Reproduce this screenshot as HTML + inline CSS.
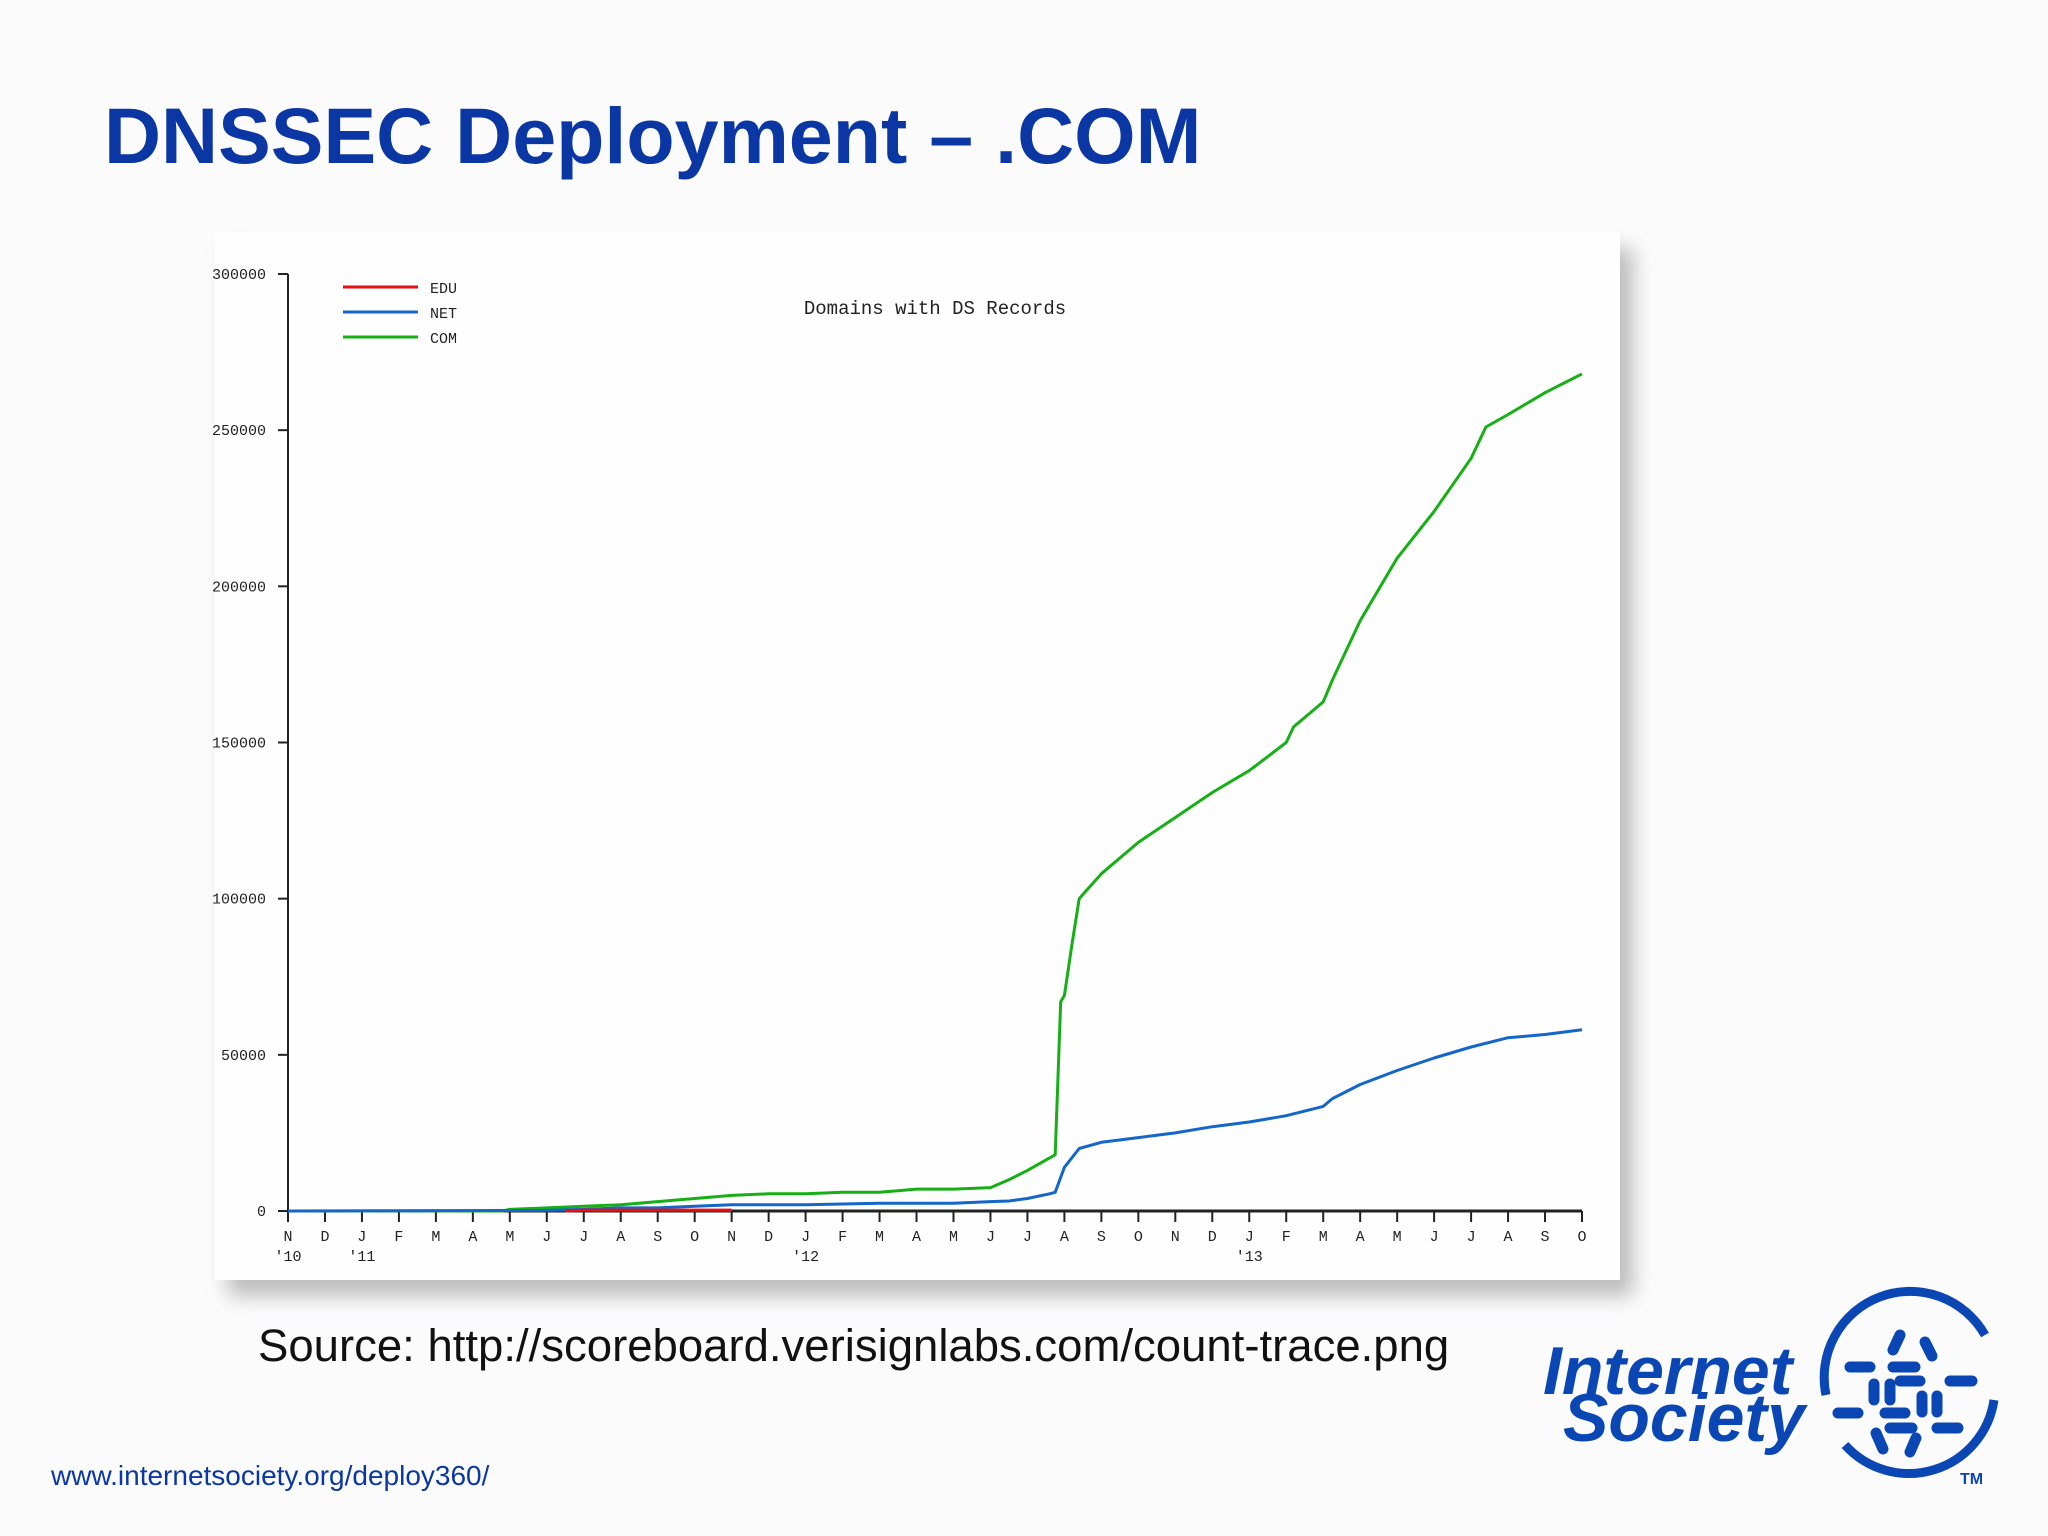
<!DOCTYPE html>
<html><head><meta charset="utf-8"><style>
html,body{margin:0;padding:0;background:#fbfbfc;}
svg{display:block;}
</style></head><body>
<svg id="page" width="2048" height="1536" viewBox="0 0 2048 1536" xmlns="http://www.w3.org/2000/svg">
<defs>
<filter id="sh" x="-5%" y="-5%" width="115%" height="120%"><feGaussianBlur stdDeviation="10"/></filter>
</defs>
<rect width="2048" height="1536" fill="#fbfbfc"/>
<text x="104" y="163" font-family="Liberation Sans, sans-serif" font-weight="bold" font-size="79" fill="#0a37a4">DNSSEC Deployment – .COM</text>
<rect x="228" y="248" width="1405" height="1048" fill="#888" opacity="0.55" filter="url(#sh)"/>
<rect x="215" y="232" width="1405" height="1048" fill="#fefefe"/>
<g id="chart"></g>
<text x="258" y="1361" font-family="Liberation Sans, sans-serif" font-size="45.5" fill="#111">Source: http://scoreboard.verisignlabs.com/count-trace.png</text>
<text x="51" y="1485" font-family="Liberation Sans, sans-serif" font-size="28" fill="#0a37a4">www.internetsociety.org/deploy360/</text>
<g fill="#0a47b4">
<text x="1543" y="1394" font-family="Liberation Sans, sans-serif" font-weight="bold" font-style="italic" font-size="68">Internet</text>
<text x="1563" y="1441" font-family="Liberation Sans, sans-serif" font-weight="bold" font-style="italic" font-size="68">Society</text>
<path d="M1826,1395 A86,86 0 0 1 1985,1335" stroke="#0a47b4" stroke-width="9" fill="none"/>
<path d="M1994,1400 A86,86 0 0 1 1845,1445" stroke="#0a47b4" stroke-width="9" fill="none"/>
<g stroke="#0a47b4" stroke-width="11" stroke-linecap="round" fill="none">
<line x1="1850" y1="1367" x2="1870" y2="1367"/><line x1="1893" y1="1367" x2="1915" y2="1367"/>
<line x1="1900" y1="1381" x2="1920" y2="1381"/><line x1="1950" y1="1381" x2="1972" y2="1381"/>
<line x1="1838" y1="1413" x2="1858" y2="1413"/><line x1="1885" y1="1413" x2="1905" y2="1413"/>
<line x1="1890" y1="1428" x2="1912" y2="1428"/><line x1="1937" y1="1428" x2="1958" y2="1428"/>
<line x1="1874" y1="1384" x2="1874" y2="1400"/><line x1="1890" y1="1384" x2="1890" y2="1400"/>
<line x1="1922" y1="1396" x2="1922" y2="1412"/><line x1="1937" y1="1396" x2="1937" y2="1412"/>
<line x1="1893" y1="1350" x2="1900" y2="1335"/><line x1="1925" y1="1342" x2="1932" y2="1356"/>
<line x1="1876" y1="1433" x2="1883" y2="1449"/><line x1="1910" y1="1452" x2="1916" y2="1438"/>
</g>
<text x="1960" y="1484" font-family="Liberation Sans, sans-serif" font-size="16" font-weight="bold">TM</text>
</g>
</svg>
<script>
const yTicks=[0,50000,100000,150000,200000,250000,300000];
const monthLabels=["N","D","J","F","M","A","M","J","J","A","S","O","N","D","J","F","M","A","M","J","J","A","S","O","N","D","J","F","M","A","M","J","J","A","S","O"];
const yearLabels=[[0,"'10"],[2,"'11"],[14,"'12"],[26,"'13"]];
const seriesNames=["EDU","NET","COM"];
const comT=[0,5.8,6,7,8,9,10,11,12,13,14,15,16,17,18,19,19.5,20,20.6,20.75,20.9,21,21.2,21.4,21.55,22,23,24,25,26,27,27.2,28,28.25,29,30,31,32,32.4,33,34,35];
const comV=[0,0,500,1000,1500,2000,3000,4000,5000,5500,5500,6000,6000,7000,7000,7500,10000,13000,17000,18000,67000,69000,85000,100000,102000,108000,118000,126000,134000,141000,150000,155000,163000,170000,189000,209000,224000,241000,251000,255000,262000,268000];
const netT=[0,7,8,9,10,11,12,14,16,17,18,19,19.5,20,20.6,20.75,21,21.4,22,23,24,25,26,27,28,28.25,29,30,31,32,33,34,35];
const netV=[0,200,500,1000,1000,1500,2000,2000,2500,2500,2500,3000,3200,4000,5500,6000,14000,20000,22000,23500,25000,27000,28500,30500,33500,36000,40500,45000,49000,52500,55500,56500,58000];
const eduT=[7.5,8,9,10,11,12];
const eduV=[0,300,300,300,300,300];
const x0=288,x1=1582,y0=1211,y1=274;
const xs=m=>x0+(x1-x0)*m/35;
const ys=v=>y0-(y0-y1)*v/300000;
const NS="http://www.w3.org/2000/svg";
const g=document.getElementById('chart');
function mk(tag,attrs,txt){const e=document.createElementNS(NS,tag);for(const k in attrs)e.setAttribute(k,attrs[k]);if(txt!==undefined)e.textContent=txt;g.appendChild(e);return e;}
const mono="Liberation Mono, DejaVu Sans Mono, monospace";
let e=mk('line',{x1:x0,y1:y0,x2:x0,y2:y1,stroke:'#222','stroke-width':2});


e=mk('line',{x1:x0,y1:y0,x2:x1,y2:y0,stroke:'#222','stroke-width':3});


yTicks.forEach(v=>{
  mk('line',{x1:x0-10,y1:ys(v),x2:x0,y2:ys(v),stroke:'#222','stroke-width':2});
  const t=mk('text',{x:x0-22,y:ys(v)+5,'text-anchor':'end','font-family':mono,'font-size':15,fill:'#222'},String(v));
  
  
});
monthLabels.forEach((m,i)=>{
  mk('line',{x1:xs(i),y1:y0,x2:xs(i),y2:y0+11,stroke:'#222','stroke-width':2});
  const t=mk('text',{x:xs(i),y:1241,'text-anchor':'middle','font-family':mono,'font-size':15,fill:'#222'},m);
  
  
});
yearLabels.forEach(([i,l])=>{
  const t=mk('text',{x:xs(i),y:1261,'text-anchor':'middle','font-family':mono,'font-size':15,fill:'#222'},l);
  
  
});
e=mk('text',{x:935,y:314,'text-anchor':'middle','font-family':mono,'font-size':19,fill:'#222'},'Domains with DS Records');


const colors=["#e81010","#1466c8","#16b016"];
seriesNames.forEach((n,i)=>{
  const y=287+i*25;
  const l=mk('line',{x1:343,y1:y,x2:418,y2:y,stroke:colors[i],'stroke-width':3});
  
  
  const t=mk('text',{x:430,y:y+6,'font-family':mono,'font-size':15,fill:'#222'},n);
  
  
});
function line(T,V,c,name){
  const d=T.map((t,i)=>(i?'L':'M')+xs(t).toFixed(1)+','+ys(V[i]).toFixed(1)).join(' ');
  const p=mk('path',{d:d,stroke:c,'stroke-width':3,fill:'none','stroke-linejoin':'round'});
  
  
}
line(comT,comV,colors[2],'com-line');
line(netT,netV,colors[1],'net-line');
line(eduT,eduV,colors[0],'edu-line');
</script>
</body></html>
